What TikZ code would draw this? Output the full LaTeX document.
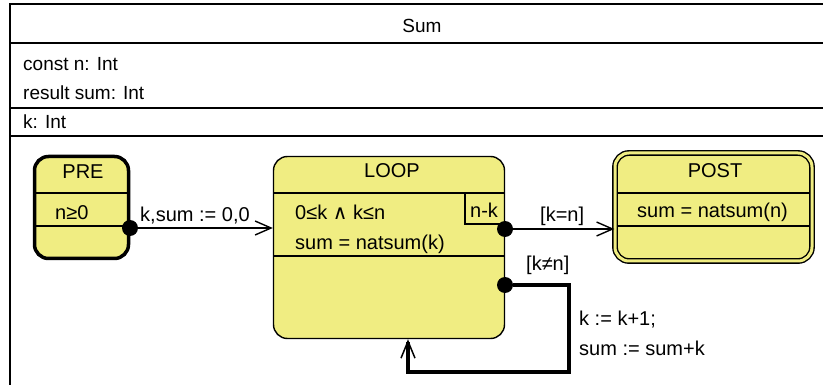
\documentclass[tikz,border=0pt]{standalone}
\usepackage{fontspec}
\setmainfont{Liberation Sans}
\newfontfamily\symfont{DejaVu Sans}
\usetikzlibrary{arrows.meta}
\definecolor{stfill}{RGB}{240,237,130}

\begin{document}
\begin{tikzpicture}[x=1pt,y=-1pt,
    every node/.style={inner sep=0pt,font=\fontsize{20}{24}\selectfont},
    state/.style={draw,fill=stfill,rounded corners=14pt,line width=1.4pt},
    small/.style={anchor=base west,font=\fontsize{19}{22}\selectfont},
    txt/.style={anchor=base west},
    title/.style={anchor=base},
    dot/.style={circle,fill,minimum size=16pt},
    trans/.style={line width=1.4pt,-{Straight Barb[length=16pt,width=14pt]}},
    back/.style={line width=3.5pt,-{Straight Barb[length=17pt,width=14pt,line width=1.5pt]}}]

\useasboundingbox (0,0) rectangle (823,385);

\draw[line width=1.4pt] (823,4) -- (10,4) -- (10,385);
\foreach \y in {43,108,136}
    \draw[line width=1.4pt] (10,\y) -- (823,\y);

\node[title,font=\fontsize{19}{22}\selectfont] (name) at (422,33) {Sum};
\node[small] (cn) at (23,71) {const n: Int};
\node[small] (rs) at (23,100) {result sum: Int};
\node[small] (kv) at (23,129) {k: Int};

\node[state,line width=3.5pt,minimum width=94pt,minimum height=102pt] (pre) at (81.5,207.5) {};
\node[state,minimum width=231pt,minimum height=182pt] (loop) at (389,247.5) {};
\node[state,double=stfill,double distance=3pt,minimum width=197pt,minimum height=108pt] (post) at (713.5,207) {};

\draw[line width=1.4pt] (34,193) -- (129,193) (34,226) -- (129,226);
\draw[line width=1.4pt] (274,193) -- (504,193) (274,256) -- (504,256);
\draw[line width=1.4pt] (465,193) |- (504,224);
\draw[line width=1.4pt] (617,193) -- (810,193) (617,226) -- (810,226);

\node[title] (pren) at (83,179) {PRE};
\node[title] (loopn) at (392,178) {LOOP};
\node[title] (postn) at (715,178) {POST};

\node[txt] (pinv) at (55,220) {n≥0};
\node[txt] (linv) at (295,220) {0≤k {\symfont∧} k≤n};
\node[txt] (lsum) at (295,250) {sum = natsum(k)};
\node[txt] (var) at (470,218) {n-k};
\node[txt] (qinv) at (637,218) {sum = natsum(n)};

\node[dot] (d1) at (130,228) {};
\node[dot] (d2) at (505,229) {};
\node[dot] (d3) at (505,285) {};

\draw[trans] (d1) -- (d1 -| loop.west);
\draw[trans] (d2) -- (d2 -| post.west);

\coordinate (c1) at (569,372);
\coordinate (c2) at (408,372);
\draw[back] (d3) -| (c1) -- (c2) -- (c2 |- loop.south);

\node[txt] (init) at (140,222) {k,sum := 0,0};
\node[txt] (gdone) at (540,222) {[k=n]};
\node[txt] (gstep) at (526,270) {[k≠n]};
\node[txt] (act1) at (579,325) {k := k+1;};
\node[txt] (act2) at (579,355) {sum := sum+k};

\end{tikzpicture}
\end{document}
